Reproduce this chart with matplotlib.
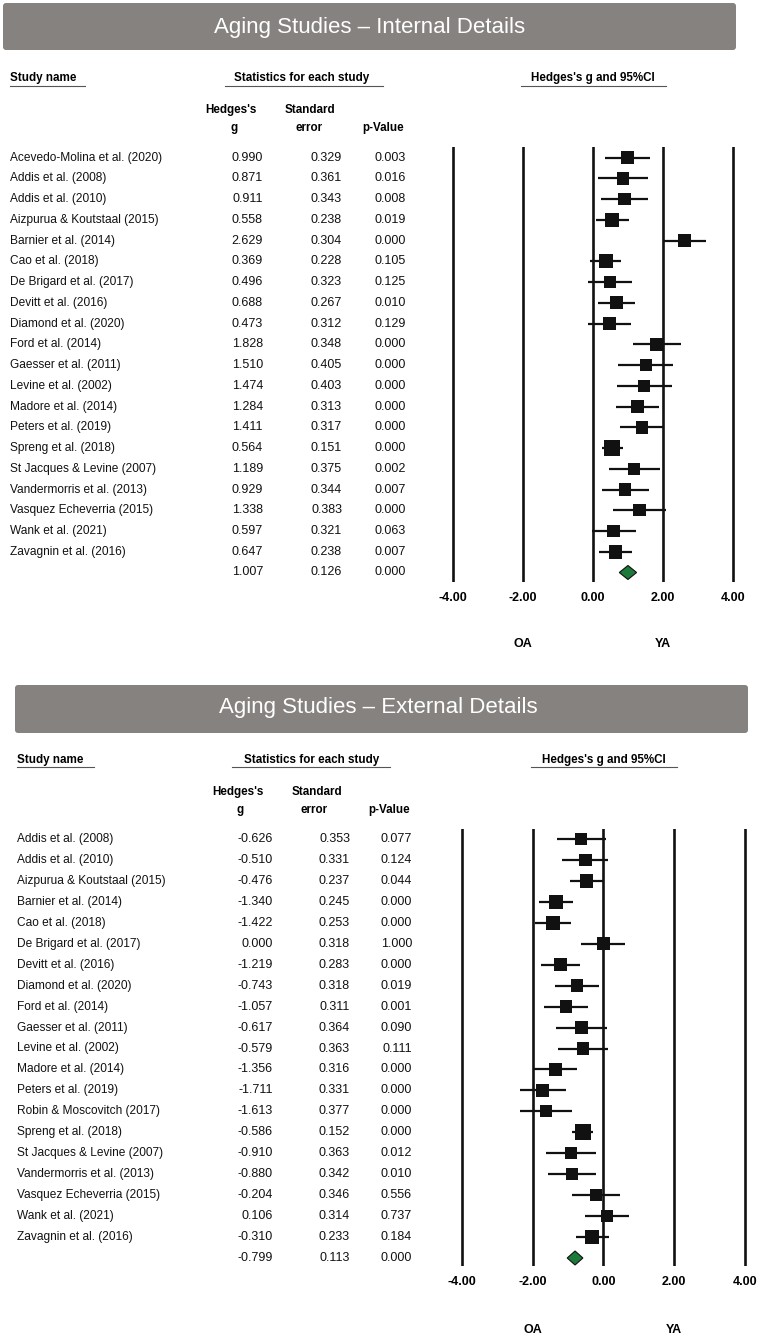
import matplotlib
matplotlib.use('Agg')
import matplotlib.pyplot as plt
from matplotlib.patches import FancyBboxPatch, Polygon
import matplotlib.transforms as mtrans
import numpy as np

plt.rcParams['font.family'] = ['Liberation Sans', 'DejaVu Sans']

# ---------------- data ----------------
int_studies = ["Acevedo-Molina et al. (2020)", "Addis et al. (2008)", "Addis et al. (2010)",
               "Aizpurua & Koutstaal (2015)", "Barnier et al. (2014)", "Cao et al. (2018)",
               "De Brigard et al. (2017)", "Devitt et al. (2016)", "Diamond et al. (2020)",
               "Ford et al. (2014)", "Gaesser et al. (2011)", "Levine et al. (2002)",
               "Madore et al. (2014)", "Peters et al. (2019)", "Spreng et al. (2018)",
               "St Jacques & Levine (2007)", "Vandermorris et al. (2013)",
               "Vasquez Echeverria (2015)", "Wank et al. (2021)", "Zavagnin et al. (2016)"]
int_g = [0.990, 0.871, 0.911, 0.558, 2.629, 0.369, 0.496, 0.688, 0.473, 1.828,
         1.510, 1.474, 1.284, 1.411, 0.564, 1.189, 0.929, 1.338, 0.597, 0.647]
int_se = [0.329, 0.361, 0.343, 0.238, 0.304, 0.228, 0.323, 0.267, 0.312, 0.348,
          0.405, 0.403, 0.313, 0.317, 0.151, 0.375, 0.344, 0.383, 0.321, 0.238]
int_p = [0.003, 0.016, 0.008, 0.019, 0.000, 0.105, 0.125, 0.010, 0.129, 0.000,
         0.000, 0.000, 0.000, 0.000, 0.000, 0.002, 0.007, 0.000, 0.063, 0.007]
int_summary = (1.007, 0.126, 0.000)

ext_studies = ["Addis et al. (2008)", "Addis et al. (2010)", "Aizpurua & Koutstaal (2015)",
               "Barnier et al. (2014)", "Cao et al. (2018)", "De Brigard et al. (2017)",
               "Devitt et al. (2016)", "Diamond et al. (2020)", "Ford et al. (2014)",
               "Gaesser et al. (2011)", "Levine et al. (2002)", "Madore et al. (2014)",
               "Peters et al. (2019)", "Robin & Moscovitch (2017)", "Spreng et al. (2018)",
               "St Jacques & Levine (2007)", "Vandermorris et al. (2013)",
               "Vasquez Echeverria (2015)", "Wank et al. (2021)", "Zavagnin et al. (2016)"]
ext_g = [-0.626, -0.510, -0.476, -1.340, -1.422, 0.000, -1.219, -0.743, -1.057, -0.617,
         -0.579, -1.356, -1.711, -1.613, -0.586, -0.910, -0.880, -0.204, 0.106, -0.310]
ext_se = [0.353, 0.331, 0.237, 0.245, 0.253, 0.318, 0.283, 0.318, 0.311, 0.364,
          0.363, 0.316, 0.331, 0.377, 0.152, 0.363, 0.342, 0.346, 0.314, 0.233]
ext_p = [0.077, 0.124, 0.044, 0.000, 0.000, 1.000, 0.000, 0.019, 0.001, 0.090,
         0.111, 0.000, 0.000, 0.000, 0.000, 0.012, 0.010, 0.556, 0.737, 0.184]
ext_summary = (-0.799, 0.113, 0.000)

axis_ticks = [-4, -2, 0, 2, 4]
titles = ["Aging Studies \u2013 Internal Details", "Aging Studies \u2013 External Details"]

# ---------------- figure ----------------
W, H = 760, 1338
fig = plt.figure(figsize=(W / 100, H / 100), dpi=100)
fig.patch.set_facecolor('white')
bg = fig.add_axes([0, 0, 1, 1])
bg.set_xlim(0, W)
bg.set_ylim(H, 0)
bg.axis('off')

BANNER = '#86827f'
INK = '#111111'
GREEN = '#1c7a3a'
NFS = 8.6     # study names
FS = 9.0      # numbers
HFS = 8.4     # bold headers
AFS = 9.0     # axis labels

panels = [
    dict(title=titles[0], studies=int_studies, g=int_g, se=int_se, p=int_p, summ=int_summary,
         banner=(3, 3, 736, 50), title_xy=(370, 27),
         hy=78, uy=86, sn_x=10, sn_u=(10, 85), st_c=302, st_u=(225, 383), ci_c=593, ci_u=(521, 666),
         sh1=110, sh2=128, gc=(231, 234), sec=(310, 309), pr=404,
         cn=10, cg=263, cse=342, cp=406,
         xm4=452.7, x4=732.7, row0=157.7, sp=20.74, ltop=147.3, lbot=581.7, oa_y=644),
    dict(title=titles[1], studies=ext_studies, g=ext_g, se=ext_se, p=ext_p, summ=ext_summary,
         banner=(15, 685, 748, 733), title_xy=(378, 708),
         hy=760, uy=767, sn_x=17, sn_u=(17, 94), st_c=311.5, st_u=(232, 390), ci_c=604, ci_u=(531, 677),
         sh1=792, sh2=810, gc=(237.5, 240), sec=(317, 314), pr=410,
         cn=17, cg=273, cse=350, cp=412,
         xm4=461.7, x4=745.0, row0=839.0, sp=20.95, ltop=829.0, lbot=1266.0, oa_y=1330),
]

for P in panels:
    # banner
    x0, y0, x1, y1 = P['banner']
    bg.add_patch(FancyBboxPatch((x0, y0), x1 - x0, y1 - y0,
                                boxstyle='round,pad=0,rounding_size=3',
                                facecolor=BANNER, edgecolor='none'))
    bg.text(*P['title_xy'], P['title'], ha='center', va='center', color='white', fontsize=16)

    # headers
    bg.text(P['sn_x'], P['hy'], 'Study name', ha='left', va='center', fontsize=HFS, fontweight='bold')
    bg.text(P['st_c'], P['hy'], 'Statistics for each study', ha='center', va='center',
            fontsize=HFS, fontweight='bold')
    bg.text(P['ci_c'], P['hy'], "Hedges's g and 95%CI", ha='center', va='center',
            fontsize=HFS, fontweight='bold')
    for (ua, ub) in (P['sn_u'], P['st_u'], P['ci_u']):
        bg.plot([ua, ub], [P['uy'], P['uy']], color='#555555', lw=0.8)
    bg.text(P['gc'][0], P['sh1'], "Hedges's", ha='center', va='center', fontsize=HFS, fontweight='bold')
    bg.text(P['gc'][1], P['sh2'], "g", ha='center', va='center', fontsize=HFS, fontweight='bold')
    bg.text(P['sec'][0], P['sh1'], "Standard", ha='center', va='center', fontsize=HFS, fontweight='bold')
    bg.text(P['sec'][1], P['sh2'], "error", ha='center', va='center', fontsize=HFS, fontweight='bold')
    bg.text(P['pr'], P['sh2'], "p-Value", ha='right', va='center', fontsize=HFS, fontweight='bold')

    # forest axes
    u = (P['x4'] - P['xm4']) / 8.0
    left = P['xm4'] - 0.4 * u
    right = P['x4'] + 0.4 * u
    ax = fig.add_axes([left / W, 1 - P['lbot'] / H, (right - left) / W, (P['lbot'] - P['ltop']) / H])
    ax.set_xlim(-4.4, 4.4)
    top_row = (P['ltop'] - P['row0']) / P['sp']
    bot_row = (P['lbot'] - P['row0']) / P['sp']
    ax.set_ylim(bot_row, top_row)
    ax.patch.set_alpha(0)
    for s in ax.spines.values():
        s.set_visible(False)
    ax.set_yticks([])
    ax.set_xticks(axis_ticks)
    ax.set_xticklabels([f'{v:.2f}' for v in axis_ticks], fontsize=AFS, fontweight='bold')
    ax.tick_params(axis='x', length=0, pad=7.5)
    for v in axis_ticks:
        ax.axvline(v, color=INK, lw=1.9, zorder=1)

    g = np.array(P['g'])
    se = np.array(P['se'])
    rows = np.arange(len(g))
    lo = g - 1.96 * se
    hi = g + 1.96 * se
    ax.hlines(rows, lo, hi, color=INK, lw=1.6, zorder=2)
    inv = 1 / se
    side_px = 12 + 4 * (inv - 1 / 0.405) / (1 / 0.151 - 1 / 0.405)
    ax.scatter(g, rows, marker='s', s=(side_px * 0.72) ** 2, color=INK, linewidths=0, zorder=3)

    # summary diamond
    sg, sse, sp_ = P['summ']
    n = len(g)
    h = 7.0 / P['sp']
    dia = Polygon([[sg - 1.96 * sse, n], [sg, n - h], [sg + 1.96 * sse, n], [sg, n + h]],
                  closed=True, facecolor=GREEN, edgecolor=INK, lw=0.8, zorder=3)
    ax.add_patch(dia)

    oa_row = (P['oa_y'] - P['row0']) / P['sp']
    ax.text(-2, oa_row, 'OA', ha='center', va='center', fontsize=AFS, fontweight='bold', clip_on=False)
    ax.text(2, oa_row, 'YA', ha='center', va='center', fontsize=AFS, fontweight='bold', clip_on=False)

    # table rows
    tr = mtrans.blended_transform_factory(bg.transData, ax.transData)
    for i, name in enumerate(P['studies']):
        bg.text(P['cn'], i, name, transform=tr, ha='left', va='center', fontsize=NFS, color=INK)
        bg.text(P['cg'], i, f"{P['g'][i]:.3f}", transform=tr, ha='right', va='center', fontsize=FS, color=INK)
        bg.text(P['cse'], i, f"{P['se'][i]:.3f}", transform=tr, ha='right', va='center', fontsize=FS, color=INK)
        bg.text(P['cp'], i, f"{P['p'][i]:.3f}", transform=tr, ha='right', va='center', fontsize=FS, color=INK)
    bg.text(P['cg'], n, f"{sg:.3f}", transform=tr, ha='right', va='center', fontsize=FS, color=INK)
    bg.text(P['cse'], n, f"{sse:.3f}", transform=tr, ha='right', va='center', fontsize=FS, color=INK)
    bg.text(P['cp'], n, f"{sp_:.3f}", transform=tr, ha='right', va='center', fontsize=FS, color=INK)

fig.savefig('out.png', dpi=100, facecolor='white')
